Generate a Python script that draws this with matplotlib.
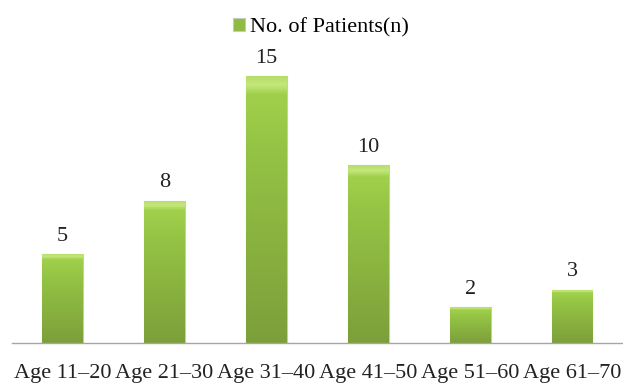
import matplotlib
matplotlib.use("Agg")
import matplotlib.pyplot as plt
import numpy as np
from matplotlib.colors import LinearSegmentedColormap

categories = ["Age 11\u201320", "Age 21\u201330", "Age 31\u201340", "Age 41\u201350", "Age 51\u201360", "Age 61\u201370"]
patients = [5, 8, 15, 10, 2, 3]
series_name = "No. of Patients(n)"

plt.rcParams['font.family'] = ['Liberation Serif', 'DejaVu Serif']

fig = plt.figure(figsize=(6.23, 3.83), dpi=100)
ax = fig.add_axes([0.0185, 0.1044, 0.9815, 0.8134])

x = np.arange(len(categories))
bars = ax.bar(x, patients, width=0.4, color="#8fbb43", edgecolor="#c8c8c8",
              linewidth=0.8, label=series_name, zorder=2)

cmap = LinearSegmentedColormap.from_list(
    "g", [(0.0, "#7d9f3a"), (0.7, "#93c244"), (0.93, "#a0d04b"), (0.965, "#c4e77c"), (1.0, "#b4dc66")])
grad = np.linspace(0, 1, 256).reshape(-1, 1)
for b in bars:
    x0, y0 = b.get_x(), b.get_y()
    w, h = b.get_width(), b.get_height()
    im = ax.imshow(grad, cmap=cmap, origin="lower", aspect="auto",
                   extent=(x0, x0 + w, y0, y0 + h), zorder=2.5)
    im.set_clip_path(b)

for xi, v in zip(x, patients):
    ax.annotate(str(v), (xi, v), xytext=(0, 6), textcoords="offset points",
                ha="center", va="bottom", fontsize=16, color="#222222")

ax.set_xlim(-0.5, len(categories) - 0.5)
ax.set_ylim(0, 17.5)
ax.set_xticks(x)
ax.set_xticklabels(categories, fontsize=16, color="#222222")
ax.tick_params(axis="x", length=0, pad=15)
ax.set_yticks([])
for s in ["top", "right", "left"]:
    ax.spines[s].set_visible(False)
ax.spines["bottom"].set_color("#a6a6a6")
ax.spines["bottom"].set_linewidth(1.0)
ax.set_facecolor("white")

leg = fig.legend(handles=[bars], labels=[series_name], loc="center",
                 bbox_to_anchor=(321 / 623, 0.928), frameon=False, fontsize=16,
                 handlelength=0.55, handleheight=0.55, handletextpad=0.2,
                 borderpad=0.1)

fig.savefig("out.png", dpi=100, facecolor="white")
